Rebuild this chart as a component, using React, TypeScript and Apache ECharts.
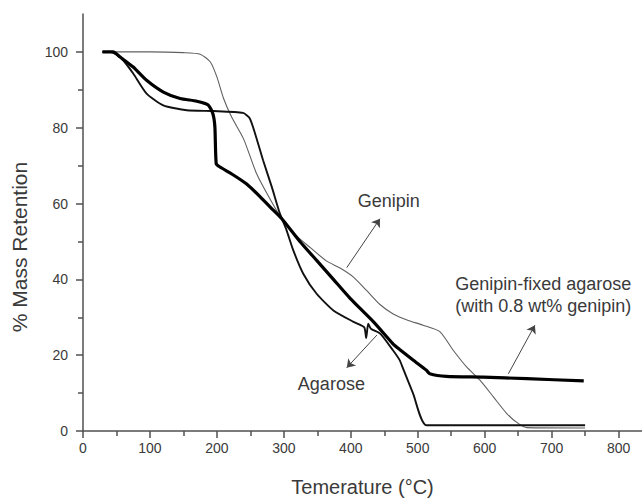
import React, { useEffect, useRef } from "react";
import * as echarts from "echarts";

// Temperature (°C), % mass retention
const agarose: [number, number][] = [
  [29, 100], [40, 100], [50, 99.3], [60, 97.8], [75, 94.3], [95, 89], [120, 85.9],
  [155, 84.6], [195, 84.4], [239, 83.9], [249, 82.5], [257, 78.5], [269, 71.4],
  [282, 64.4], [294, 57.4], [304, 53], [314, 47.7], [329, 41.5], [349, 36.2],
  [374, 31.8], [404, 28.8], [420, 27.4], [423, 24.5], [426, 28.3], [430, 27],
  [444, 25.7], [463, 21.3], [473, 18.7], [478, 16.5], [493, 9.9], [513, 1.5],
  [600, 1.5], [750, 1.5],
];

const genipin: [number, number][] = [
  [29, 100], [60, 100], [100, 100], [150, 99.8], [175, 99.4], [190, 97.4],
  [200, 93.4], [210, 87.7], [222, 82.8], [240, 77], [259, 68], [280, 61],
  [297, 56], [319, 51.5], [340, 48.3], [364, 44.8], [384, 43], [404, 40.6],
  [424, 37], [444, 33.3], [464, 30.8], [484, 29.3], [508, 27.9], [533, 26.2],
  [553, 21.3], [573, 16.9], [593, 13.4], [613, 9], [633, 4.6], [650, 2],
  [663, 0.9], [750, 0.8],
];

const genipinFixed: [number, number][] = [
  [29, 100], [45, 100], [55, 98.7], [75, 96], [95, 92.5], [120, 89.4], [145, 87.7],
  [170, 87], [187, 86], [194, 83.7], [197, 80.2], [199, 70.5], [204, 69.7],
  [224, 67.6], [244, 65.2], [264, 61.9], [280, 59], [297, 56], [324, 50],
  [349, 45], [374, 40], [399, 35], [434, 28.8], [463, 23], [473, 21.5],
  [493, 18.7], [513, 16], [518, 15.1], [543, 14.4], [598, 14.2], [663, 13.8],
  [748, 13.2],
];

const xTicks = [0, 100, 200, 300, 400, 500, 600, 700, 800];
const xMinorTicks = [50, 150, 250, 350, 450, 550, 650, 750];
const yTicks = [0, 20, 40, 60, 80, 100];
const yMinorTicks = [10, 30, 50, 70, 90];

// annotation arrows: [fromX, fromY, toX, toY] in data units
const arrows: [number, number, number, number][] = [
  [394, 43.1, 443.6, 56],
  [439, 25.3, 394, 16.7],
  [635.4, 15.1, 675, 27.9],
];

// annotation labels: [text, x, y, align]
const labels: [string, number, number, string][] = [
  ["Genipin", 456.7, 60.7, "center"],
  ["Agarose", 371, 12.3, "center"],
  ["Genipin-fixed agarose", 556, 38.9, "left"],
  ["(with 0.8 wt% genipin)", 556, 32.9, "left"],
];

const FONT = "Liberation Sans, Arial, sans-serif";
const TEXT = "#3a3a3a";
const AXIS = "#505050";

export default function App() {
  const ref = useRef<HTMLDivElement>(null);
  useEffect(() => {
    document.body.style.margin = "0";
    if (!ref.current) return;
    const chart = echarts.init(ref.current, null, { renderer: "svg" });
    const axisLineStyle = { color: AXIS, width: 1.5 };
    const option: any = {
      animation: false,
      backgroundColor: "#ffffff",
      grid: { left: 83, right: 0, top: 14, bottom: 71 },
      xAxis: [
        {
          type: "value", min: 0, max: 835, position: "bottom",
          axisLine: { show: true, onZero: false, lineStyle: axisLineStyle },
          axisTick: { show: true, length: 7, customValues: xTicks, lineStyle: axisLineStyle },
          axisLabel: { customValues: xTicks, margin: 10, color: TEXT, fontSize: 14, fontFamily: FONT },
          splitLine: { show: false },
          name: "Temerature (°C)", nameLocation: "middle", nameGap: 46,
          nameTextStyle: { fontSize: 20, color: TEXT, fontFamily: FONT },
        },
        {
          type: "value", min: 0, max: 835, position: "bottom",
          axisLine: { show: false },
          axisTick: { show: true, length: 5, customValues: xMinorTicks, lineStyle: axisLineStyle },
          axisLabel: { show: false },
          splitLine: { show: false },
        },
      ],
      yAxis: [
        {
          type: "value", min: 0, max: 110, position: "left",
          axisLine: { show: true, onZero: false, lineStyle: axisLineStyle },
          axisTick: { show: true, length: 7, customValues: yTicks, lineStyle: axisLineStyle },
          axisLabel: { customValues: yTicks, margin: 15, color: TEXT, fontSize: 14, fontFamily: FONT },
          splitLine: { show: false },
        },
        {
          type: "value", min: 0, max: 110, position: "left",
          axisLine: { show: false },
          axisTick: { show: true, length: 5, customValues: yMinorTicks, lineStyle: axisLineStyle },
          axisLabel: { show: false },
          splitLine: { show: false },
        },
      ],
      series: [
        {
          name: "Genipin", type: "line", data: genipin, showSymbol: false,
          smooth: 0.2,
          lineStyle: { color: "#606060", width: 1.1 },
          markLine: {
            silent: true, symbol: ["none", "arrow"], symbolSize: 8,
            lineStyle: { color: "#444", width: 1, type: "solid" },
            label: { show: false },
            data: arrows.map((a) => [{ coord: [a[0], a[1]] }, { coord: [a[2], a[3]] }]),
          },
        },
        {
          name: "Agarose", type: "line", data: agarose, showSymbol: false,
          smooth: 0.2,
          lineStyle: { color: "#111", width: 1.9 },
        },
        {
          name: "Genipin-fixed agarose", type: "line", data: genipinFixed, showSymbol: false,
          smooth: 0.2,
          lineStyle: { color: "#000", width: 3.2 },
        },
      ],
    };
    chart.setOption(option);
    const graphics: any[] = labels.map((l) => {
      const p = chart.convertToPixel({ gridIndex: 0 }, [l[1], l[2]]) as number[];
      return {
        type: "text", x: p[0], y: p[1],
        style: { text: l[0], fill: TEXT, fontSize: 18, fontFamily: FONT, align: l[3], verticalAlign: "middle" },
      };
    });
    graphics.push({
      type: "text", x: 19, y: 247, rotation: Math.PI / 2,
      style: { text: "% Mass Retention", fill: TEXT, fontSize: 21, fontFamily: FONT, align: "center", verticalAlign: "middle" },
    });
    chart.setOption({ graphic: graphics });
    return () => chart.dispose();
  }, []);
  return <div ref={ref} style={{ width: 642, height: 502 }} />;
}
